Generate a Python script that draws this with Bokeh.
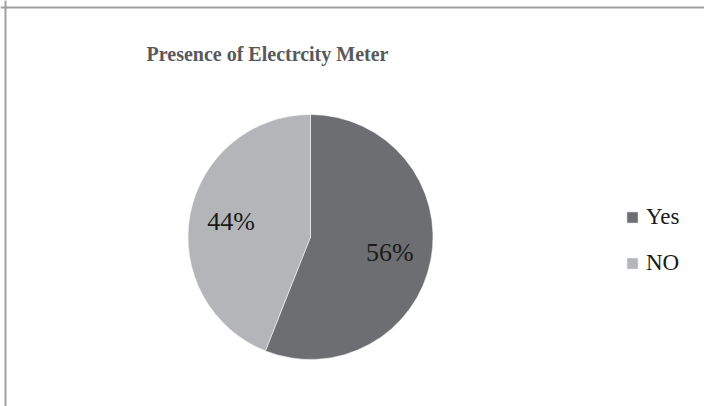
import math
from bokeh.plotting import figure
from bokeh.models import Range1d, Label, LabelSet, Legend, LegendItem, Span, ColumnDataSource
from bokeh.embed import file_html
from bokeh.resources import INLINE

categories = ["Yes", "NO"]
shares = [56, 44]
pct_labels = ["56%", "44%"]
colors = ["#6d6e71", "#b3b5b8"]
title_text = "Presence of Electrcity Meter"

W, H = 704, 406
p = figure(width=W, height=H, output_backend="svg", toolbar_location=None,
           x_range=Range1d(0, W), y_range=Range1d(0, H), min_border=0,
           x_axis_location=None, y_axis_location=None)
p.grid.visible = False
p.outline_line_color = None
p.background_fill_color = "white"
p.border_fill_color = "white"

cx, cy, R = 310, 169.5, 122.5
total = float(sum(shares))
starts, ends, lx, ly = [], [], [], []
a = math.pi / 2
for s in shares:
    sweep = 2 * math.pi * s / total
    starts.append(a)
    ends.append(a - sweep)
    mid = a - sweep / 2
    lx.append(cx + 0.66 * R * math.cos(mid))
    ly.append(cy + 0.66 * R * math.sin(mid))
    a -= sweep

src = ColumnDataSource(dict(start=starts, end=ends, color=colors, cat=categories,
                            lx=lx, ly=ly, lab=pct_labels))
r = p.wedge(x=cx, y=cy, radius=R, start_angle="start", end_angle="end",
            direction="clock", fill_color="color", line_color="white", line_width=0.5,
            source=src)

p.add_layout(LabelSet(x="lx", y="ly", text="lab", source=src,
                      text_font="Liberation Serif", text_font_size="26px",
                      text_align="center", text_baseline="middle", text_color="#1a1a1a"))

p.add_layout(Label(x=267, y=353, text=title_text, text_font="Liberation Serif",
                   text_font_style="bold", text_font_size="20px", text_color="#58595b",
                   text_align="center", text_baseline="alphabetic"))

legend = Legend(items=[LegendItem(label=categories[i], renderers=[r], index=i) for i in range(2)],
                location=(625, 130), glyph_width=14, glyph_height=14, label_standoff=7,
                spacing=20, padding=0, margin=0, border_line_color=None,
                background_fill_alpha=0, label_text_font="Liberation Serif",
                label_text_font_size="23px", label_text_color="#1a1a1a")
p.add_layout(legend)

p.add_layout(Span(location=5, dimension="height", line_color="#a0a0a0", line_width=2))
p.add_layout(Span(location=399, dimension="width", line_color="#a0a0a0", line_width=2))

open("out.html", "w").write(file_html(p, INLINE))
